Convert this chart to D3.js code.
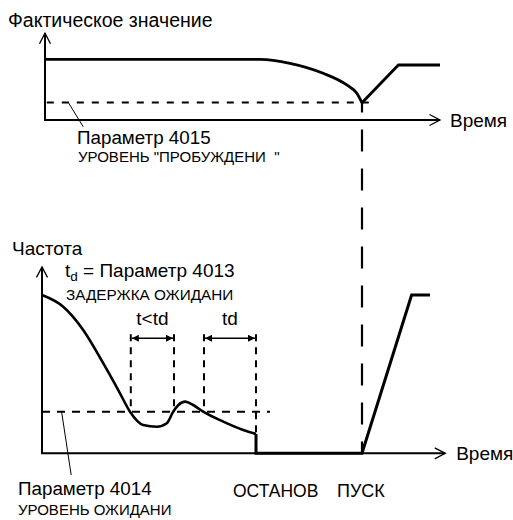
<!DOCTYPE html>
<html>
<head>
<meta charset="utf-8">
<script src="https://cdn.jsdelivr.net/npm/d3@7"></script>
<style>
  html, body { margin: 0; padding: 0; background: #fff; }
  svg { display: block; }
  text { font-family: "Liberation Sans", Arial, sans-serif; fill: #000; }
</style>
</head>
<body>
<svg id="chart" width="513" height="520"></svg>
<script>
// Values. Time runs 0..100 across both panels,
// each panel's level runs 0..100 up its own axis.

// top panel: actual value, smooth fall to the wake level, then restart ramp
const actualFall = [[0.75, 75.9], [54.5, 75.8], [62, 70.9], [70.3, 58.4], [76.2, 43.8], [78.7, 33.4], [80, 21.5]];
const actualRise = [[80, 21.5], [89.1, 68.75], [99.5, 68.75]];
const wakeLevel = 21.8;

// bottom panel: output frequency, sleep stop and restart
const freqFall = [[0, 98.9], [5.3, 91.6], [10.3, 77.1], [15.3, 56.3], [19.5, 37.5], [22, 26], [25.3, 17.7],
  [28.7, 16.6], [31.2, 18.8], [32.8, 26], [34.1, 30.2], [35.8, 32.3], [37.8, 30.2], [40.3, 26],
  [45.3, 19.8], [50.3, 14.6], [53.5, 12.1]];
const freqStop = [[53.5, 12.1], [53.5, 0], [80, 0], [92.4, 98.9], [97, 98.9]];
const sleepLevel = 26;

// delay windows: [start, end, label], and where each bracket line drops to
const delays = [[22.2, 33, 't<td'], [40.5, 53.5, 'td']];
const delayDrop = [[22.2, 26], [33, 26], [40.5, 26], [53.5, 12.1]];
const startTime = 80;

const svg = d3.select('#chart');

const x = d3.scaleLinear().domain([0, 100]).range([42, 442]);
const yTop = d3.scaleLinear().domain([0, 100]).range([120, 40]);
const yBot = d3.scaleLinear().domain([0, 100]).range([453.3, 293.3]);

const defs = svg.append('defs');
defs.append('marker')
  .attr('id', 'head')
  .attr('viewBox', '0 0 10 10')
  .attr('refX', 10).attr('refY', 5)
  .attr('markerWidth', 7).attr('markerHeight', 7)
  .attr('markerUnits', 'userSpaceOnUse')
  .attr('orient', 'auto-start-reverse')
  .append('path').attr('d', 'M0,0L10,5L0,10Z').attr('fill', '#000');

const lineOf = (ys, curve) => d3.line().x(d => x(d[0])).y(d => ys(d[1])).curve(curve || d3.curveLinear);

// ---- axes (plain lines with open chevrons) ----
function axes(ys, t0, vTip, tEnd) {
  const g = svg.append('g').attr('fill', 'none').attr('stroke', '#000');
  const ox = x(t0), oy = ys(0), tipY = ys(vTip), tipX = x(tEnd);
  g.append('path').attr('stroke-width', 2)
    .attr('d', `M${ox},${tipY}V${oy}H${tipX}`);
  g.append('path').attr('stroke-width', 1.3)
    .attr('d', `M${ox - 5.5},${tipY + 10.5}L${ox},${tipY}L${ox + 5.5},${tipY + 10.5}`);
  g.append('path').attr('stroke-width', 1.3)
    .attr('d', `M${tipX - 10.5},${oy - 5.5}L${tipX},${oy}L${tipX - 10.5},${oy + 5.5}`);
}
axes(yTop, 0.75, 108.5, 99.5);
axes(yBot, 0, 116.5, 100.8);

// ---- threshold dashes ----
svg.append('line')
  .attr('x1', x(1.2)).attr('x2', x(82.4))
  .attr('y1', yTop(wakeLevel)).attr('y2', yTop(wakeLevel))
  .attr('stroke', '#000').attr('stroke-width', 2).attr('stroke-dasharray', '7,8');
svg.append('line')
  .attr('x1', x(0)).attr('x2', x(57))
  .attr('y1', yBot(sleepLevel)).attr('y2', yBot(sleepLevel))
  .attr('stroke', '#000').attr('stroke-width', 2).attr('stroke-dasharray', '8,7');

// ---- start marker linking both panels ----
svg.append('line')
  .attr('x1', x(startTime)).attr('x2', x(startTime))
  .attr('y1', yTop(wakeLevel)).attr('y2', yBot(0))
  .attr('stroke', '#000').attr('stroke-width', 2.2)
  .attr('stroke-dasharray', '22,17').attr('stroke-dashoffset', 12);

// ---- delay brackets ----
const bracketV = 71.9;
svg.append('g').selectAll('line')
  .data(delayDrop)
  .join('line')
  .attr('x1', d => x(d[0])).attr('x2', d => x(d[0]))
  .attr('y1', yBot(bracketV) - 4).attr('y2', d => yBot(d[1]))
  .attr('stroke', '#000').attr('stroke-width', 2).attr('stroke-dasharray', '7,6');

const dg = svg.append('g').selectAll('g').data(delays).join('g');
dg.append('line')
  .attr('x1', d => x(d[0]) + 1).attr('x2', d => x(d[1]) - 1)
  .attr('y1', yBot(bracketV)).attr('y2', yBot(bracketV))
  .attr('stroke', '#000').attr('stroke-width', 1.6)
  .attr('marker-start', 'url(#head)').attr('marker-end', 'url(#head)');
dg.append('text')
  .attr('x', d => (x(d[0]) + x(d[1])) / 2)
  .attr('y', yBot(bracketV) - 13)
  .attr('text-anchor', 'middle')
  .attr('font-size', 19)
  .text(d => d[2]);

// ---- signals ----
svg.append('path').attr('d', lineOf(yTop, d3.curveMonotoneX)(actualFall))
  .attr('fill', 'none').attr('stroke', '#000').attr('stroke-width', 2.8);
svg.append('path').attr('d', lineOf(yTop)(actualRise))
  .attr('fill', 'none').attr('stroke', '#000').attr('stroke-width', 2.8);
svg.append('path').attr('d', lineOf(yBot, d3.curveMonotoneX)(freqFall))
  .attr('fill', 'none').attr('stroke', '#000').attr('stroke-width', 2.6);
svg.append('path').attr('d', lineOf(yBot)(freqStop))
  .attr('fill', 'none').attr('stroke', '#000').attr('stroke-width', 3)
  .attr('stroke-linejoin', 'miter');

// ---- leader lines to parameter notes ----
svg.append('line')
  .attr('x1', x(6.6)).attr('y1', yTop(wakeLevel))
  .attr('x2', x(10.3)).attr('y2', yTop(-8.4))
  .attr('stroke', '#000').attr('stroke-width', 1);
svg.append('line')
  .attr('x1', x(4.9)).attr('y1', yBot(sleepLevel))
  .attr('x2', x(7.3)).attr('y2', yBot(-13.6))
  .attr('stroke', '#000').attr('stroke-width', 1);

// ---- text ----
const label = (t, px, py, size) => svg.append('text')
  .attr('x', px).attr('y', py).attr('font-size', size).text(t);

label('Фактическое значение', 8, 27, 19.5);
label('Время', x(99.5) + 10, yTop(0) + 6.5, 19);
label('Параметр 4015', 77, 144, 18.8);
label('УРОВЕНЬ "ПРОБУЖДЕНИ  "', 78, 161.5, 15).style('white-space', 'pre');

label('Частота', 12, 255, 19);
const td = svg.append('text').attr('x', 65).attr('y', 277).attr('font-size', 19);
td.append('tspan').text('t');
td.append('tspan').attr('font-size', 13.5).attr('dy', 4).text('d');
td.append('tspan').attr('dy', -4).text(' = Параметр 4013');
label('ЗАДЕРЖКА ОЖИДАНИ', 66, 300, 15.3);
label('Время', x(100.8) + 11, yBot(0) + 6.5, 19);
label('Параметр 4014', 18, 495, 18.8);
label('УРОВЕНЬ ОЖИДАНИ', 18, 515, 15);
label('ОСТАНОВ', 233, 497, 17.5);
label('ПУСК', 337, 497, 18);
</script>
</body>
</html>
